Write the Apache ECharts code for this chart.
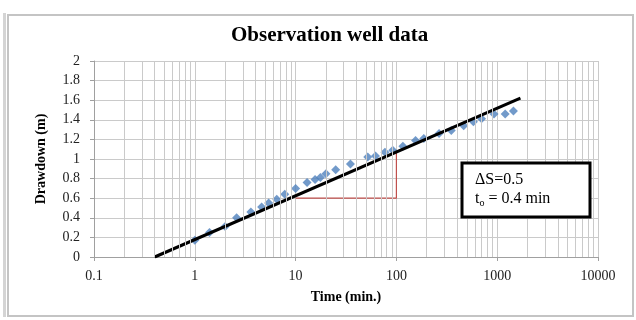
<!DOCTYPE html>
<html>
<head>
<meta charset="utf-8">
<script src="https://cdn.jsdelivr.net/npm/echarts@6/dist/echarts.min.js"></script>
<style>
html,body{margin:0;padding:0;background:#fff;}
#c{width:636px;height:320px;}
</style>
</head>
<body>
<div id="c"></div>
<script>
// ---- data ----
const timeMin = [1, 1.4, 2, 2.6, 3.6, 4.6, 5.4, 6.5, 7.8, 10, 13, 15.6, 17.6, 20, 25, 35, 52, 62, 77, 92, 116, 155, 187, 265, 350, 465, 580, 700, 930, 1200, 1450];
const drawdown = [0.17, 0.25, 0.31, 0.40, 0.46, 0.51, 0.55, 0.59, 0.64, 0.70, 0.76, 0.79, 0.81, 0.85, 0.89, 0.95, 1.02, 1.03, 1.07, 1.09, 1.13, 1.19, 1.21, 1.26, 1.29, 1.34, 1.38, 1.41, 1.46, 1.46, 1.49];
const trendT = [0.4, 1700];
const trendS = [0, 1.62];
const triT = [10, 100, 100];
const triS = [0.6, 0.6, 1.08];
const xTickLabels = ['0.1', '1', '10', '100', '1000', '10000'];
const boxLine1 = 'ΔS=0.5';
const boxLine2 = '0.4 min';

const serif = "'Liberation Serif', 'Times New Roman', serif";
const gridColor = '#cacaca';

// minor log grid positions (2..9 of each decade)
const minorLines = [];
[0.1, 1, 10, 100, 1000].forEach(function (d) {
  for (let k = 2; k <= 9; k++) minorLines.push({ xAxis: +(d * k).toPrecision(6) });
});

const chart = echarts.init(document.getElementById('c'), null, { renderer: 'canvas' });
chart.setOption({
  animation: false,
  backgroundColor: '#fff',
  title: {
    text: 'Observation well data',
    left: 226,
    top: 20,
    textStyle: { fontFamily: serif, fontSize: 21, fontWeight: 'bold', color: '#000' }
  },
  grid: { left: 94, right: 38, top: 61, bottom: 63 },
  xAxis: {
    type: 'log',
    logBase: 10,
    min: 0.1,
    max: 10000,
    name: 'Time (min.)',
    nameLocation: 'middle',
    nameGap: 33,
    nameTextStyle: { fontFamily: serif, fontSize: 14, fontWeight: 'bold', color: '#000' },
    axisLine: { lineStyle: { color: '#a0a0a0', width: 1 } },
    axisTick: { show: true, length: 4, lineStyle: { color: '#a0a0a0' } },
    axisLabel: {
      fontFamily: serif, fontSize: 14, color: '#222', margin: 12,
      formatter: function (v) {
        const e = Math.round(Math.log10(v));
        return xTickLabels[e + 1] !== undefined ? xTickLabels[e + 1] : String(v);
      }
    },
    splitLine: { show: true, lineStyle: { color: gridColor, width: 1 } }
  },
  yAxis: {
    type: 'value',
    min: 0,
    max: 2,
    interval: 0.2,
    name: 'Drawdown (m)',
    nameLocation: 'middle',
    nameGap: 46,
    nameTextStyle: { fontFamily: serif, fontSize: 14, fontWeight: 'bold', color: '#000' },
    axisLine: { show: true, lineStyle: { color: '#a0a0a0', width: 1 } },
    axisTick: { show: true, length: 4, lineStyle: { color: '#a0a0a0' } },
    axisLabel: {
      fontFamily: serif, fontSize: 14, color: '#222', margin: 14,
      formatter: function (v) { return String(Math.round(v * 10) / 10); }
    },
    splitLine: { show: true, lineStyle: { color: gridColor, width: 1 } }
  },
  series: [
    {
      name: 'minor grid',
      type: 'line',
      data: [],
      silent: true,
      z: 0,
      markLine: {
        silent: true,
        symbol: ['none', 'none'],
        label: { show: false },
        lineStyle: { color: gridColor, width: 1, type: 'solid' },
        emphasis: { disabled: true },
        data: minorLines,
        animation: false
      }
    },
    {
      name: 'Observed',
      type: 'scatter',
      symbol: 'diamond',
      symbolSize: 9,
      itemStyle: { color: '#4f81bd' },
      data: timeMin.map(function (t, i) { return [t, drawdown[i]]; }),
      z: 3
    },
    {
      name: 'triangle',
      type: 'line',
      showSymbol: false,
      symbol: 'none',
      lineStyle: { color: '#c0504d', width: 1.2 },
      data: triT.map(function (t, i) { return [t, triS[i]]; }),
      z: 2
    },
    {
      name: 'Trend',
      type: 'line',
      showSymbol: false,
      symbol: 'none',
      lineStyle: { color: '#000', width: 3 },
      data: trendT.map(function (t, i) { return [t, trendS[i]]; }),
      z: 4
    }
  ],
  graphic: [
    {
      type: 'rect',
      silent: true,
      shape: { x: 8, y: 15, width: 625, height: 301 },
      style: { fill: 'none', stroke: '#c4c4c4', lineWidth: 2 },
      z: 100
    },
    {
      type: 'rect',
      silent: true,
      shape: { x: 3, y: 13, width: 3, height: 304 },
      style: { fill: '#d4d4d4' },
      z: 100
    },
    {
      type: 'rect',
      silent: true,
      z: 100,
      shape: { x: 462, y: 163, width: 128, height: 54 },
      style: { fill: '#ffffff', stroke: '#000000', lineWidth: 3 }
    },
    {
      type: 'text',
      silent: true,
      z: 101,
      x: 475, y: 172,
      style: { text: boxLine1, font: "16px 'Liberation Serif', 'Times New Roman', serif", fill: '#000' }
    },
    {
      type: 'text',
      silent: true,
      z: 101,
      x: 475, y: 190,
      style: {
        text: '{t|t}{s|o}{t| = ' + boxLine2 + '}',
        rich: {
          t: { fontFamily: serif, fontSize: 16, fill: '#000', color: '#000' },
          s: { fontFamily: serif, fontSize: 10, fill: '#000', color: '#000', padding: [8, 0, 0, 0] }
        }
      }
    }
  ]
});
</script>
</body>
</html>
